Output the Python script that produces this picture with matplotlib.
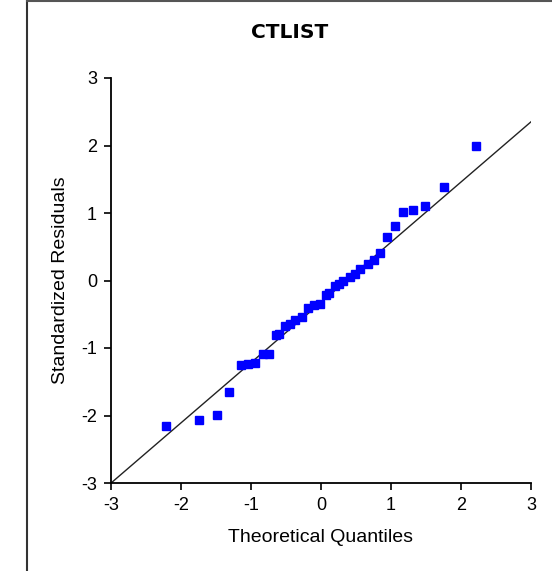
import matplotlib
matplotlib.use('Agg')
import matplotlib.pyplot as plt
from matplotlib.lines import Line2D

# theoretical quantiles and standardized residuals
theo_q = [-2.21, -1.75, -1.49, -1.32, -1.15, -1.05, -0.94, -0.83, -0.75, -0.65,
          -0.60, -0.51, -0.44, -0.37, -0.27, -0.18, -0.10, -0.01,
          0.07, 0.12, 0.20, 0.25, 0.32, 0.42, 0.49, 0.56, 0.67, 0.75,
          0.84, 0.94, 1.05, 1.17, 1.32, 1.49, 1.75, 2.22]
std_res = [-2.15, -2.07, -1.99, -1.65, -1.25, -1.23, -1.22, -1.09, -1.09, -0.81,
           -0.79, -0.67, -0.64, -0.59, -0.54, -0.40, -0.37, -0.35,
           -0.21, -0.19, -0.08, -0.05, -0.01, 0.05, 0.10, 0.17, 0.24, 0.30,
           0.41, 0.64, 0.81, 1.02, 1.05, 1.10, 1.38, 2.00]
# reference line
line_intercept = -0.325
line_slope = 0.892
ticks = [-3, -2, -1, 0, 1, 2, 3]

plt.rcParams['font.family'] = ['Liberation Sans', 'DejaVu Sans']
plt.rcParams['axes.unicode_minus'] = False

fig = plt.figure(figsize=(5.52, 5.71), dpi=100)
# panel frame (top and left edges visible)
fig.add_artist(Line2D([26.5 / 552, 26.5 / 552], [0, 1], color='#333333', lw=1.5,
                      transform=fig.transFigure))
fig.add_artist(Line2D([26.5 / 552, 1], [1 - 1 / 571, 1 - 1 / 571], color='#555555', lw=1.5,
                      transform=fig.transFigure))

ax = fig.add_axes([111 / 552, 88 / 571, 420 / 552, 405 / 571])
ax.plot(ticks, [line_intercept + line_slope * t for t in ticks], color='#222222', lw=1.0)
ax.plot(theo_q, std_res, 's', color='#0000ff', ms=6.3, mec='#0000ff', zorder=3)

ax.set_xlim(-3, 3)
ax.set_ylim(-3, 3)
ax.set_xticks(ticks)
ax.set_yticks(ticks)
ax.spines['top'].set_visible(False)
ax.spines['right'].set_visible(False)
ax.spines['left'].set_linewidth(1.3)
ax.spines['bottom'].set_linewidth(1.3)
ax.tick_params(direction='out', length=5, width=1.2, labelsize=13, pad=5)
ax.set_xlabel('Theoretical Quantiles', fontsize=14, labelpad=11)
ax.set_ylabel('Standardized Residuals', fontsize=14, labelpad=9)
fig.text(290 / 552, 1 - 33 / 571, 'CTLIST', ha='center', va='center',
         fontsize=14.5, fontweight='bold', family=['DejaVu Sans'])

plt.savefig('out.png', dpi=100)
